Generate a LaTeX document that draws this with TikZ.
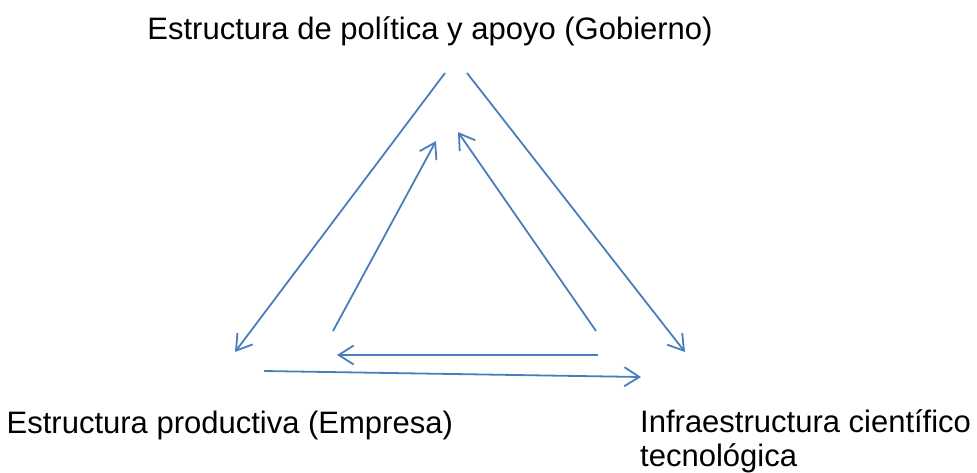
\documentclass[tikz,border=0pt]{standalone}
\usepackage{fontspec}
\setmainfont{Liberation Sans}
\usetikzlibrary{arrows.meta}
\definecolor{linkblue}{HTML}{4A7EBB}
\tikzset{
  link/.style={draw=linkblue, line width=1.8pt, -{Straight Barb[length=15pt,width=19pt,line width=1.8pt]}},
  lbl/.style={inner sep=0pt, font=\fontsize{31}{35}\selectfont}
}
\begin{document}
\begin{tikzpicture}[x=1pt,y=-1pt]
\useasboundingbox (0,0) rectangle (977,472);
\node[lbl, anchor=base] (gob) at (430,39.3) {Estructura de política y apoyo (Gobierno)};
\node[lbl, anchor=base west] (emp) at (6.5,433.3) {Estructura productiva (Empresa)};
\node[lbl, anchor=base west] (inf1) at (640,432.7) {Infraestructura científico};
\node[lbl, anchor=base west] (inf2) at (640,466) {tecnológica};
% outer triangle
\coordinate (a1) at (445,73);  \coordinate (a2) at (235,352);
\coordinate (b1) at (467,73);  \coordinate (b2) at (685,352);
\coordinate (c1) at (264,371); \coordinate (c2) at (641,377);
% inner triangle
\coordinate (d1) at (333,331); \coordinate (d2) at (436,141);
\coordinate (e1) at (596,331); \coordinate (e2) at (458,132);
\coordinate (f1) at (598,355); \coordinate (f2) at (337,355);
\draw[link] (a1) -- (a2);
\draw[link] (b1) -- (b2);
\draw[link] (c1) -- (c2);
\draw[link] (d1) -- (d2);
\draw[link] (e1) -- (e2);
\draw[link] (f1) -- (f2);
\end{tikzpicture}
\end{document}
